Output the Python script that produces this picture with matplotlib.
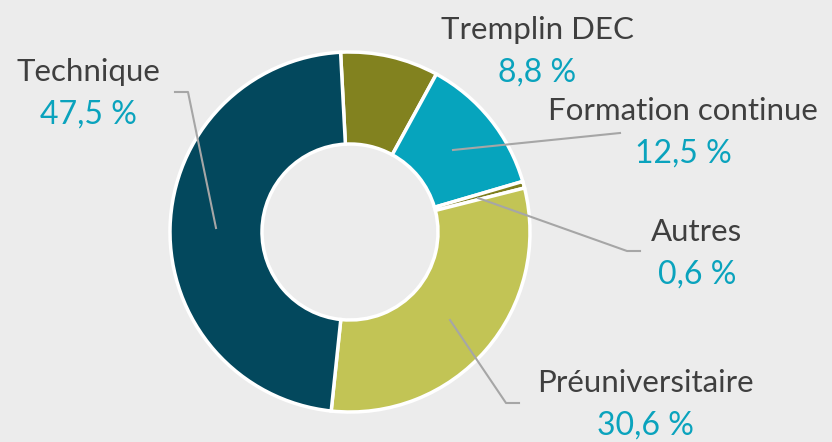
import matplotlib.pyplot as plt

W, H = 832, 442

categories = ["Tremplin DEC", "Formation continue", "Autres", "Préuniversitaire", "Technique"]
shares = [8.8, 12.5, 0.6, 30.6, 47.5]
share_labels = ["8,8 %", "12,5 %", "0,6 %", "30,6 %", "47,5 %"]
colors = ["#82821f", "#06a4bd", "#7d7d1c", "#c2c455", "#03485d"]

# label anchor (pixel coords, y from top) and leader lines
label_pos = {
    "Tremplin DEC": (537, 30),
    "Formation continue": (683, 111),
    "Autres": (697, 232),
    "Préuniversitaire": (645, 383),
    "Technique": (88, 72),
}
leaders = {
    "Formation continue": [(453, 150), (620, 133)],
    "Autres": [(478, 198), (627, 251), (640, 251)],
    "Préuniversitaire": [(450, 320), (506, 403), (519, 403)],
    "Technique": [(175, 92), (188, 92), (216, 228)],
}

plt.rcParams['font.family'] = ['Lato', 'Open Sans', 'DejaVu Sans']

fig = plt.figure(figsize=(W / 100, H / 100), dpi=100)
fig.patch.set_facecolor("#ececec")
ax = fig.add_axes([0, 0, 1, 1])
ax.set_facecolor("#ececec")

ax.pie(shares, colors=colors, startangle=93, counterclock=False,
       center=(350, H - 232), radius=180,
       wedgeprops=dict(width=92, edgecolor="white", linewidth=2.5))

ax.set_xlim(0, W)
ax.set_ylim(0, H)
ax.set_aspect("equal")
ax.axis("off")

for name, lab in zip(categories, share_labels):
    x, y = label_pos[name]
    ax.text(x, H - y, name, ha="center", va="center", fontsize=22.5,
            color="#3f3f3f", zorder=5)
    ax.text(x, H - y - 43, lab, ha="center", va="center", fontsize=23,
            color="#0aa3bd", zorder=5)

for name, pts in leaders.items():
    xs = [p[0] for p in pts]
    ys = [H - p[1] for p in pts]
    ax.plot(xs, ys, color="#a6a6a6", lw=1.5, zorder=4)

fig.savefig("out.png", dpi=100, facecolor=fig.get_facecolor())
